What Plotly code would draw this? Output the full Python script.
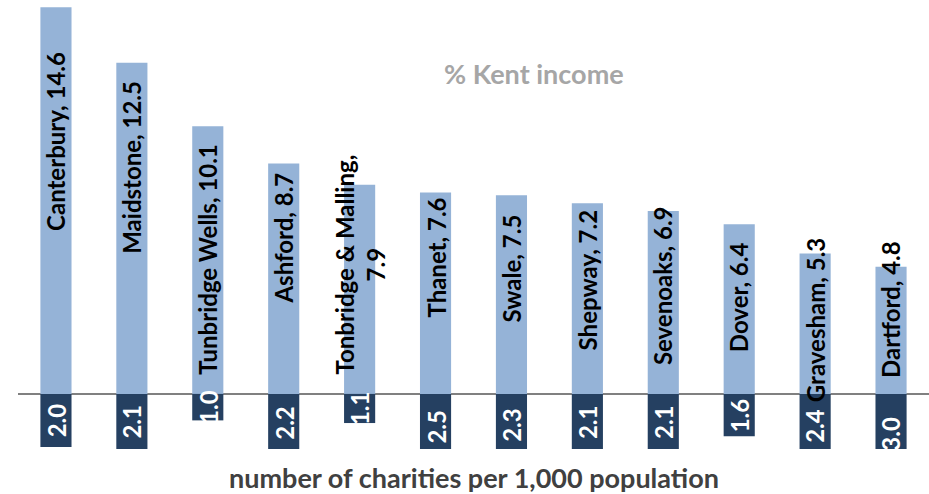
import plotly.graph_objects as go

districts = ["Canterbury", "Maidstone", "Tunbridge Wells", "Ashford", "Tonbridge & Malling",
             "Thanet", "Swale", "Shepway", "Sevenoaks", "Dover", "Gravesham", "Dartford"]
kent_income_pct = [14.6, 12.5, 10.1, 8.7, 7.9, 7.6, 7.5, 7.2, 6.9, 6.4, 5.3, 4.8]
charities_per_1000 = [2.0, 2.1, 1.0, 2.2, 1.1, 2.5, 2.3, 2.1, 2.1, 1.6, 2.4, 3.0]
# vertical centre of each income label (in axis units), as placed in the original
income_label_y = [9.55, 8.57, 5.06, 5.89, 4.87, 5.13, 4.75, 4.3, 4.08, 3.66, 2.79, 3.17]

FONT = "Lato"
LIGHT = "#95B3D7"
DARK = "#254061"

fig = go.Figure()
fig.add_trace(go.Bar(x=districts, y=kent_income_pct, marker_color=LIGHT,
                     marker_line_width=0, width=0.41, name="% Kent income"))
fig.add_trace(go.Bar(x=districts, y=[-v for v in charities_per_1000], marker_color=DARK,
                     marker_line_width=0, width=0.41, name="charities"))

annotations = []
for d, v, ly in zip(districts, kent_income_pct, income_label_y):
    txt = f"{d}, {v}" if d != "Tonbridge & Malling" else f"{d},<br>{v}"
    annotations.append(dict(x=d, y=ly, xref="x", yref="y", text=f"<b>{txt}</b>",
                            textangle=-90, showarrow=False,
                            font=dict(family=FONT, size=24, color="#000000")))
for d, v in zip(districts, charities_per_1000):
    annotations.append(dict(x=d, y=-v / 2, xref="x", yref="y", text=f"<b>{v:.1f}</b>",
                            textangle=-90, showarrow=False,
                            font=dict(family=FONT, size=24, color="#FFFFFF")))
annotations.append(dict(x=0.566, y=1, xref="paper", yref="paper", yanchor="middle", yshift=-73,
                        text="<b>% Kent income</b>",
                        showarrow=False, font=dict(family=FONT, size=27, color="#A6A6A6")))
annotations.append(dict(x=0.5, y=0, xref="paper", yref="paper", yanchor="middle", yshift=-28,
                        text="<b>number of charities per 1,000 population</b>",
                        showarrow=False, font=dict(family=FONT, size=27, color="#404040")))

fig.update_layout(
    width=929, height=494,
    margin=dict(l=18, r=0, t=0, b=45),
    paper_bgcolor="white", plot_bgcolor="white",
    barmode="relative", showlegend=False, hovermode=False,
    xaxis=dict(showticklabels=False, showgrid=False, zeroline=False, showline=False, ticks=""),
    yaxis=dict(range=[-2.08, 14.87], showticklabels=False, showgrid=False,
               zeroline=True, zerolinecolor="#808080", zerolinewidth=2, showline=False),
    annotations=annotations,
)
fig.write_html("out.html", config={"displayModeBar": False},
               post_script="document.body.style.margin='0';document.body.style.overflow='hidden';")
